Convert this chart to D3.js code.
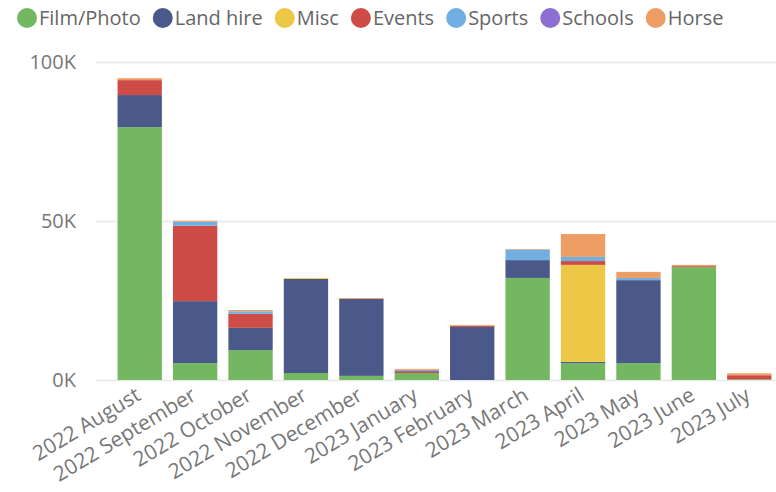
<!DOCTYPE html>
<html>
<head>
<meta charset="utf-8">
<script src="https://cdn.jsdelivr.net/npm/d3@7"></script>
<style>
  body { margin: 0; background: #fff; }
  svg { font-family: 'Segoe UI', 'Open Sans', sans-serif; }
  .grid line { stroke: #e8e8e8; stroke-width: 1.6; }
  .grid .domain { display: none; }
  .axis text { fill: #777; }
  .legend text { fill: #666; }
</style>
</head>
<body>
<div id="vis"></div>
<script>
const months = ['2022 August', '2022 September', '2022 October', '2022 November', '2022 December',
  '2023 January', '2023 February', '2023 March', '2023 April', '2023 May', '2023 June', '2023 July']

const seriesNames = ['Film/Photo', 'Land hire', 'Misc', 'Events', 'Sports', 'Schools', 'Horse']
const colors = ['#73b761', '#4a588a', '#ecc846', '#cd4c46', '#71afe2', '#8d6fd1', '#ee9e64']

const film = [79500, 5300, 9400, 2200, 1300, 2200, 0, 32100, 5300, 5300, 35500, 200]
const landHire = [10100, 19500, 7000, 29600, 24200, 0, 16700, 5600, 400, 26100, 0, 0]
const misc = [0, 0, 0, 300, 0, 0, 0, 0, 30500, 0, 0, 0]
const events = [4700, 23700, 4400, 0, 0, 600, 400, 0, 1200, 0, 300, 1300]
const sports = [0, 1300, 800, 0, 0, 400, 0, 3300, 1300, 700, 0, 0]
const schools = [0, 0, 0, 0, 0, 0, 0, 0, 0, 0, 0, 0]
const horse = [600, 300, 400, 0, 300, 300, 200, 200, 7200, 1900, 400, 600]

const yTicks = [0, 50000, 100000]

const width = 776
const height = 492

const values = [film, landHire, misc, events, sports, schools, horse]
const rows = months.map((m, i) => {
  const row = { month: m }
  seriesNames.forEach((s, j) => { row[s] = values[j][i] })
  return row
})

const stacked = d3.stack().keys(seriesNames)(rows)

const svg = d3.select('#vis').append('svg')
  .attr('width', width).attr('height', height)

const x = d3.scaleBand()
  .domain(months)
  .range([112, 777])
  .paddingInner(0.2)
  .paddingOuter(0.1)

const y = d3.scaleLinear()
  .domain([0, 100000])
  .range([380, 62])

// gridlines
svg.append('g')
  .attr('class', 'grid')
  .attr('transform', 'translate(96,0)')
  .call(d3.axisLeft(y).tickValues(yTicks).tickSize(-(width - 96)).tickFormat(''))

// y labels
svg.append('g')
  .attr('class', 'axis')
  .selectAll('text')
  .data(yTicks)
  .join('text')
  .attr('x', 76)
  .attr('y', (d) => y(d))
  .attr('dy', '0.35em')
  .attr('text-anchor', 'end')
  .attr('font-size', 20)
  .text((d) => d / 1000 + 'K')

// bars
svg.append('g')
  .selectAll('g')
  .data(stacked)
  .join('g')
  .attr('fill', (d, i) => colors[i])
  .selectAll('rect')
  .data((d) => d)
  .join('rect')
  .attr('x', (d) => x(d.data.month))
  .attr('width', x.bandwidth())
  .attr('y', (d) => y(d[1]))
  .attr('height', (d) => y(d[0]) - y(d[1]))

// x labels, rotated
svg.append('g')
  .attr('class', 'axis')
  .selectAll('text')
  .data(months)
  .join('text')
  .attr('transform', (d) => `translate(${x(d) + x.bandwidth() / 2 + 2.5},${399}) rotate(-31)`)
  .attr('text-anchor', 'end')
  .attr('font-size', 21)
  .text((d) => d)

// legend
const legend = svg.append('g').attr('class', 'legend')
let lx = 17
seriesNames.forEach((s, i) => {
  const item = legend.append('g').attr('transform', `translate(${lx},0)`)
  item.append('circle')
    .attr('cx', 10)
    .attr('cy', 18)
    .attr('r', 10)
    .attr('fill', colors[i])
  const t = item.append('text')
    .attr('x', 22)
    .attr('y', 25)
    .attr('font-size', 20)
    .text(s)
  lx += 22 + t.node().getComputedTextLength() + 12
})
</script>
</body>
</html>
